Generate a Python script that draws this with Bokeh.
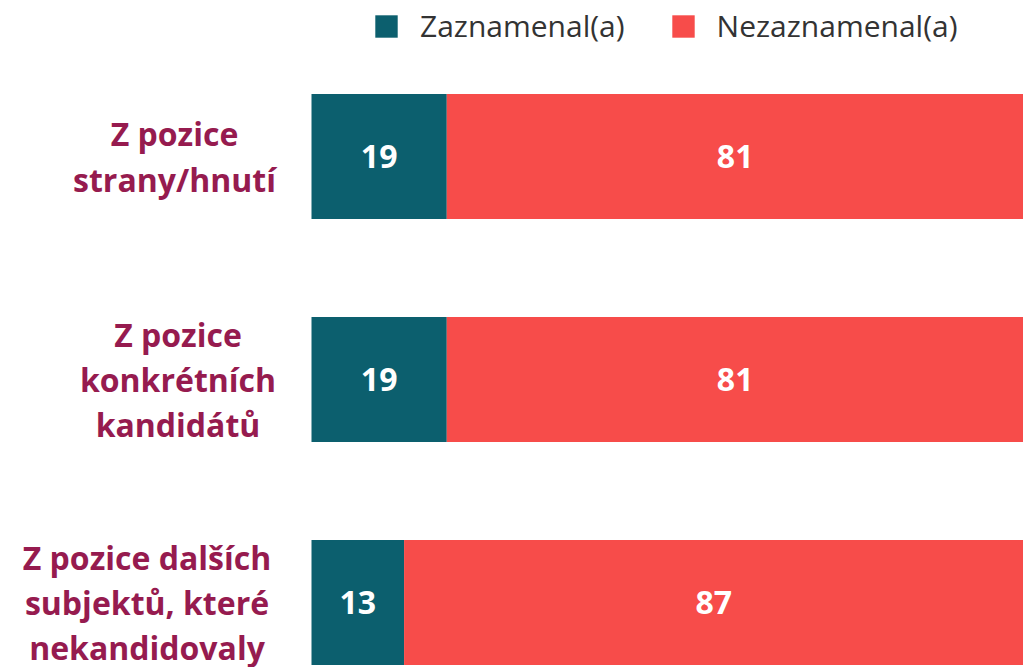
from bokeh.plotting import figure
from bokeh.models import Range1d, ColumnDataSource, Legend, LegendItem
from bokeh.core.properties import value
from bokeh.embed import file_html
from bokeh.resources import INLINE

# ---- data ----
categories = [
    "Z pozice\nstrany/hnutí",
    "Z pozice\nkonkrétních\nkandidátů",
    "Z pozice dalších\nsubjektů, které\nnekandidovaly",
]
zaznamenal = [19, 19, 13]
nezaznamenal = [81, 81, 87]
series_names = ["Zaznamenal(a)", "Nezaznamenal(a)"]

# ---- style / layout ----
TEAL = "#0C5F6E"
RED = "#F74C4A"
MAROON = "#961B4F"
FONT = "Open Sans"
W, H = 1023, 667
BAR_LEFT_PX = 311
px_per_unit = (W - BAR_LEFT_PX) / 100.0
x_start = -BAR_LEFT_PX / px_per_unit
ROW_PX = 223
FIRST_PX = 156
y_top = -FIRST_PX / ROW_PX
y_bottom = (H - FIRST_PX) / ROW_PX
LABEL_RIGHT_PX = 275
LABEL_BLOCK_W = [202, 195, 257]   # widest line of each label block, px

p = figure(width=W, height=H, x_range=Range1d(x_start, 100),
           y_range=Range1d(y_bottom, y_top), output_backend="svg",
           toolbar_location=None, min_border=0)
p.axis.visible = False
p.grid.visible = False
p.outline_line_color = None

idx = list(range(len(categories)))
left2 = zaznamenal
right2 = [a + b for a, b in zip(zaznamenal, nezaznamenal)]
src = ColumnDataSource(dict(
    y=idx, z=zaznamenal, left2=left2, right2=right2,
    zmid=[v / 2 for v in zaznamenal],
    nmid=[a + b / 2 for a, b in zip(zaznamenal, nezaznamenal)],
    ztxt=[str(v) for v in zaznamenal],
    ntxt=[str(v) for v in nezaznamenal],
))

r1 = p.hbar(y="y", left=0, right="z", height=0.5605, source=src,
            fill_color=TEAL, line_color=None)
r2 = p.hbar(y="y", left="left2", right="right2", height=0.5605, source=src,
            fill_color=RED, line_color=None)

for xcol, tcol in (("zmid", "ztxt"), ("nmid", "ntxt")):
    p.text(x=xcol, y="y", text=tcol, source=src, text_align="center",
           text_baseline="middle", text_color="white",
           text_font=value(FONT), text_font_style="bold",
           text_font_size="32px")

# category labels: centred text, block right-aligned
label_x = [x_start + (LABEL_RIGHT_PX - w / 2) / px_per_unit for w in LABEL_BLOCK_W]
lsrc = ColumnDataSource(dict(x=label_x, y=idx, t=categories))
p.text(x="x", y="y", text="t", source=lsrc, text_align="center",
       text_baseline="middle", text_color=MAROON, text_font=value(FONT),
       text_font_style="bold", text_font_size="32px", text_line_height=1.05)

legend = Legend(items=[LegendItem(label=series_names[0], renderers=[r1]),
                       LegendItem(label=series_names[1], renderers=[r2])],
                orientation="horizontal", location=(372, 621),
                glyph_width=28, glyph_height=28, label_standoff=20,
                spacing=44, padding=0, margin=0, border_line_color=None,
                background_fill_alpha=0, label_text_font=FONT,
                label_text_font_size="30px", label_text_color="#333333",
                label_height=28)
p.add_layout(legend)

open("out.html", "w").write(file_html(p, INLINE))
